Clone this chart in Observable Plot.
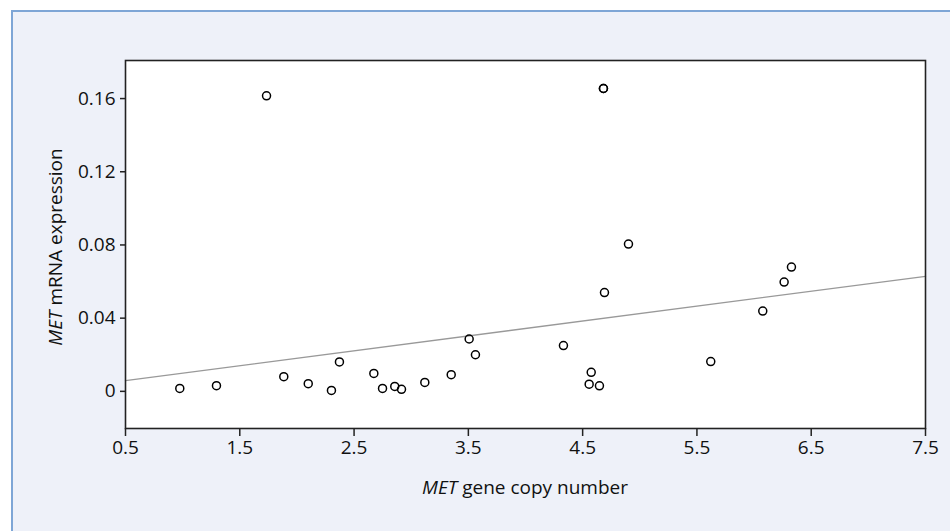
<!DOCTYPE html>
<html>
<head>
<meta charset="utf-8">
<script src="https://cdn.jsdelivr.net/npm/d3@7"></script>
<script src="https://cdn.jsdelivr.net/npm/@observablehq/plot@0.6"></script>
<style>
  html, body { margin: 0; padding: 0; background: #ffffff; }
  #panel { position: absolute; left: 11px; top: 10px; width: 939px; height: 521px;
           background: #eef1f9; border-left: 2px solid #7ea6d6; border-top: 2px solid #7ea6d6; box-sizing: border-box; }
  #chart { position: absolute; left: 0; top: 0; }
</style>
</head>
<body>
<div id="panel"></div>
<div id="chart"></div>
<script>
const copyNumber = [0.975, 1.296, 1.734, 1.885, 2.099, 2.302, 2.372, 2.673, 2.749, 2.856, 2.915, 3.119, 3.350, 3.507, 3.562, 4.332, 4.557, 4.575, 4.647, 4.682, 4.682, 4.691, 4.901, 5.621, 6.076, 6.263, 6.327];
const mrnaExpr   = [0.0016, 0.0031, 0.1615, 0.0080, 0.0042, 0.0005, 0.0161, 0.0098, 0.0016, 0.0027, 0.0011, 0.0049, 0.0091, 0.0286, 0.0200, 0.0250, 0.0039, 0.0104, 0.0030, 0.1655, 0.1655, 0.0540, 0.0805, 0.0163, 0.0439, 0.0597, 0.0679];
const fitX = [0.5, 7.5];
const fitY = [0.0059, 0.0628];
const xTicks = [0.5, 1.5, 2.5, 3.5, 4.5, 5.5, 6.5, 7.5];
const yTicks = [0, 0.04, 0.08, 0.12, 0.16];
const yTickLabels = ["0", "0.04", "0.08", "0.12", "0.16"];

const points = copyNumber.map((x, i) => ({x, y: mrnaExpr[i]}));
const fit = fitX.map((x, i) => ({x, y: fitY[i]}));

const W = 950, H = 531;
const FONT = "'Open Sans', sans-serif";
const svg = Plot.plot({
  width: W, height: H,
  marginLeft: 125, marginRight: 25, marginTop: 60, marginBottom: 103,
  style: { background: "transparent", fontFamily: FONT, fontSize: "19px", overflow: "visible" },
  x: { domain: [0.5, 7.5], label: null },
  y: { domain: [-0.0203, 0.1808], label: null },
  marks: [
    Plot.frame({ fill: "white", stroke: null }),
    Plot.line(fit, { x: "x", y: "y", stroke: "#999999", strokeWidth: 1.3 }),
    Plot.dot(points, { x: "x", y: "y", r: 4, stroke: "#000", strokeWidth: 1.5, fill: "none" }),
    Plot.frame({ stroke: "#222", strokeWidth: 1.6 }),
    Plot.axisX({ ticks: xTicks, tickSize: 8, tickPadding: 3.5, fontSize: 19, stroke: "#222", strokeWidth: 1.5, color: "#111", tickFormat: d => String(d), label: null }),
    Plot.axisY({ ticks: yTicks, tickSize: 5, tickPadding: 5, fontSize: 19, stroke: "#222", strokeWidth: 1.5, color: "#111", tickFormat: d => yTickLabels[yTicks.indexOf(d)], label: null })
  ]
});
document.getElementById("chart").appendChild(svg);

const s = d3.select(svg);
s.selectAll("g[aria-label$='tick label']").style("font-size", "19px").style("font-family", FONT);

const xl = s.append("text")
  .attr("x", 525).attr("y", 494)
  .attr("text-anchor", "middle")
  .style("font-family", FONT)
  .style("font-size", "19px").attr("fill", "#111");
xl.append("tspan").attr("font-style", "italic").text("MET");
xl.append("tspan").text(" gene copy number");

const yl = s.append("text")
  .attr("transform", "translate(62,247) rotate(-90)")
  .attr("text-anchor", "middle")
  .style("font-family", FONT)
  .style("font-size", "19px").attr("fill", "#111");
yl.append("tspan").attr("font-style", "italic").text("MET");
yl.append("tspan").text(" mRNA expression");
</script>
</body>
</html>
